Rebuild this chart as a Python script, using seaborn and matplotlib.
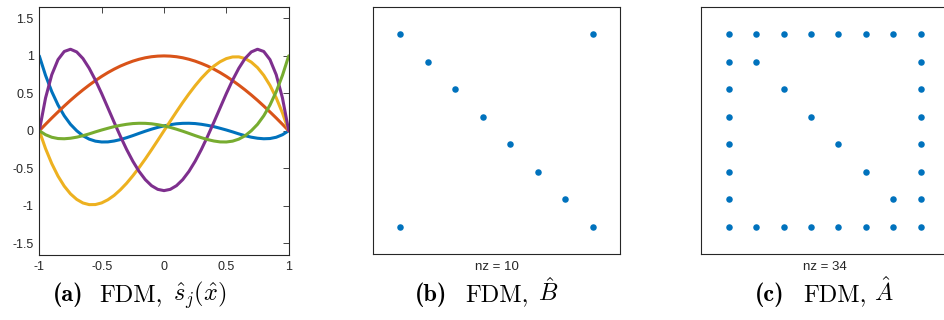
import numpy as np
import pandas as pd
import matplotlib
matplotlib.use("Agg")
import matplotlib.pyplot as plt
import seaborn as sns

# ---------------- data ----------------
x_hat = [-1.00, -0.95, -0.90, -0.85, -0.80, -0.75, -0.70, -0.65, -0.60, -0.55,
         -0.50, -0.45, -0.40, -0.35, -0.30, -0.25, -0.20, -0.15, -0.10, -0.05,
         0.00, 0.05, 0.10, 0.15, 0.20, 0.25, 0.30, 0.35, 0.40, 0.45,
         0.50, 0.55, 0.60, 0.65, 0.70, 0.75, 0.80, 0.85, 0.90, 0.95, 1.00]

s_blue = [1.000, 0.740, 0.523, 0.344, 0.200, 0.086, 0.000, -0.067, -0.112, -0.139,
          -0.150, -0.149, -0.137, -0.118, -0.093, -0.065, -0.035, -0.006, 0.021, 0.045,
          0.065, 0.081, 0.093, 0.099, 0.100, 0.096, 0.086, 0.072, 0.055, 0.033,
          0.010, -0.015, -0.042, -0.066, -0.086, -0.100, -0.107, -0.104, -0.087, -0.053, 0.000]

s_orange = [0.000, 0.086, 0.170, 0.251, 0.330, 0.406, 0.478, 0.546, 0.610, 0.670,
            0.726, 0.777, 0.823, 0.864, 0.899, 0.930, 0.955, 0.975, 0.989, 0.997,
            1.000, 0.997, 0.989, 0.975, 0.955, 0.930, 0.899, 0.864, 0.823, 0.777,
            0.726, 0.670, 0.610, 0.546, 0.478, 0.406, 0.330, 0.251, 0.170, 0.086, 0.000]

s_yellow = [0.000, -0.238, -0.439, -0.606, -0.740, -0.843, -0.917, -0.965, -0.987, -0.986,
            -0.964, -0.922, -0.864, -0.789, -0.702, -0.602, -0.493, -0.377, -0.254, -0.128,
            0.000, 0.128, 0.254, 0.377, 0.493, 0.602, 0.702, 0.789, 0.864, 0.922,
            0.964, 0.986, 0.987, 0.965, 0.917, 0.843, 0.740, 0.606, 0.439, 0.238, 0.000]

s_purple = [0.000, 0.437, 0.748, 0.950, 1.059, 1.089, 1.053, 0.965, 0.835, 0.676,
            0.497, 0.306, 0.114, -0.073, -0.249, -0.407, -0.543, -0.653, -0.734, -0.783,
            -0.800, -0.783, -0.734, -0.653, -0.543, -0.407, -0.249, -0.073, 0.114, 0.306,
            0.497, 0.676, 0.835, 0.965, 1.053, 1.089, 1.059, 0.950, 0.748, 0.437, 0.000]

s_green = [0.000, -0.053, -0.087, -0.104, -0.107, -0.100, -0.086, -0.066, -0.042, -0.015,
           0.010, 0.033, 0.055, 0.072, 0.086, 0.096, 0.100, 0.099, 0.093, 0.081,
           0.065, 0.045, 0.021, -0.006, -0.035, -0.065, -0.093, -0.118, -0.137, -0.149,
           -0.150, -0.139, -0.112, -0.067, 0.000, 0.086, 0.200, 0.344, 0.523, 0.740, 1.000]

series_names = ["s1", "s2", "s3", "s4", "s5"]
series_colors = ["#0072BD", "#D95319", "#EDB120", "#7E2F8E", "#77AC30"]

x_ticks = [-1, -0.5, 0, 0.5, 1]
x_tick_labels = ["-1", "-0.5", "0", "0.5", "1"]
y_ticks = [-1.5, -1, -0.5, 0, 0.5, 1, 1.5]
y_tick_labels = ["-1.5", "-1", "-0.5", "0", "0.5", "1", "1.5"]

# sparsity pattern of B-hat (row, col), 8x8
B_rows = [1, 1, 2, 3, 4, 5, 6, 7, 8, 8]
B_cols = [1, 8, 2, 3, 4, 5, 6, 7, 1, 8]

# sparsity pattern of A-hat (row, col), 8x8
A_rows = [1, 1, 1, 1, 1, 1, 1, 1,
          2, 2, 2,
          3, 3, 3,
          4, 4, 4,
          5, 5, 5,
          6, 6, 6,
          7, 7, 7,
          8, 8, 8, 8, 8, 8, 8, 8]
A_cols = [1, 2, 3, 4, 5, 6, 7, 8,
          1, 2, 8,
          1, 3, 8,
          1, 4, 8,
          1, 5, 8,
          1, 6, 8,
          1, 7, 8,
          1, 2, 3, 4, 5, 6, 7, 8]
n_size = 8

cap_labels = ["(a)", "(b)", "(c)"]
cap_words = ["FDM,", "FDM,", "FDM,"]
cap_math = [r"$\hat{s}_j(\hat{x})$", r"$\hat{B}$", r"$\hat{A}$"]

# ---------------- style ----------------
sns.set_style("white")
plt.rcParams["font.family"] = ["Liberation Sans", "DejaVu Sans"]
plt.rcParams["mathtext.fontset"] = "cm"
plt.rcParams["axes.unicode_minus"] = False

axis_col = "#262626"
spy_col = "#0072BD"

fig = plt.figure(figsize=(9.45, 3.2), dpi=100)
W, H = 945.0, 320.0

def box(l, t, r, b):
    return [l / W, 1 - b / H, (r - l) / W, (b - t) / H]

ax_a = fig.add_axes(box(39.3, 6.5, 288.7, 255.0))
ax_b = fig.add_axes(box(372.7, 6.7, 620.3, 254.0))
ax_c = fig.add_axes(box(701.3, 6.7, 948.1, 254.0))

# ---------------- panel (a) ----------------
frames = []
for name, vals in zip(series_names, [s_blue, s_orange, s_yellow, s_purple, s_green]):
    frames.append(pd.DataFrame({"x": x_hat, "y": vals, "series": name}))
df = pd.concat(frames, ignore_index=True)

sns.lineplot(data=df, x="x", y="y", hue="series", hue_order=series_names,
             palette=series_colors, linewidth=2.2, legend=False, sort=False,
             estimator=None, ax=ax_a)
ax_a.set_xlim(-1, 1)
ax_a.set_ylim(-1.66, 1.66)
ax_a.set_xticks(x_ticks)
ax_a.set_xticklabels(x_tick_labels)
ax_a.set_yticks(y_ticks)
ax_a.set_yticklabels(y_tick_labels)
ax_a.set_xlabel("")
ax_a.set_ylabel("")
ax_a.tick_params(direction="in", top=True, right=True, length=4, width=0.6,
                 colors=axis_col, labelsize=9, pad=4)

# ---------------- spy panels ----------------
for ax, rows, cols in [(ax_b, B_rows, B_cols), (ax_c, A_rows, A_cols)]:
    sns.scatterplot(x=cols, y=rows, color=spy_col, s=22, linewidth=0, ax=ax)
    ax.set_xlim(0, n_size + 1)
    ax.set_ylim(n_size + 1, 0)
    ax.set_xticks([])
    ax.set_yticks([])
    ax.set_ylabel("")
    ax.set_xlabel("nz = %d" % len(rows), fontsize=9.5, color=axis_col, labelpad=5)

for ax in (ax_a, ax_b, ax_c):
    for sp in ax.spines.values():
        sp.set_visible(True)
        sp.set_color(axis_col)
        sp.set_linewidth(0.8)

# ---------------- captions ----------------
base_y = 1 - 301.3 / H
cap_fs = 17.5
lab_x = [52.7, 415.0, 755.0]
word_x = [99.3, 465.0, 803.3]
math_x = [173.5, 538.0, 874.5]
for i in range(3):
    fig.text(lab_x[i] / W, base_y, cap_labels[i], fontsize=cap_fs, family="cmb10",
             ha="left", va="baseline", color="black")
    fig.text(word_x[i] / W, base_y, cap_words[i], fontsize=cap_fs, family="cmr10",
             ha="left", va="baseline", color="black")
    fig.text(math_x[i] / W, base_y, cap_math[i], fontsize=cap_fs,
             ha="left", va="baseline", color="black")

fig.savefig("out.png", dpi=100)
